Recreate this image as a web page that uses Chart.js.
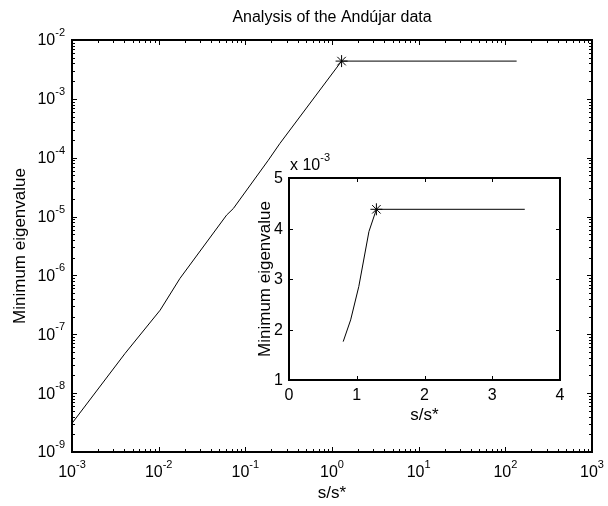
<!DOCTYPE html>
<html>
<head>
<meta charset="utf-8">
<script src="https://cdn.jsdelivr.net/npm/chart.js@4.4.0/dist/chart.umd.min.js"></script>
<style>
  body { margin: 0; background: #fff; }
  #wrap { position: relative; width: 608px; height: 506px; }
  #main { position: absolute; left: 0; top: 0; }
  #inset { position: absolute; left: 240px; top: 150px; }
</style>
</head>
<body>
<div id="wrap">
  <canvas id="main" width="608" height="506"></canvas>
  <canvas id="inset" width="345" height="280"></canvas>
</div>
<script>
// main curve (log-log)
const mainS   = [0.001, 0.0041, 0.0104, 0.0176, 0.0608, 0.0727, 0.184, 0.25, 1.29, 135];
const mainEig = [3.07e-9, 4.74e-8, 2.57e-7, 8.9e-7, 1.06e-5, 1.37e-5, 9.06e-5, 1.74e-4, 4.38e-3, 4.38e-3];

// break point, marked with a star in both plots
const starS = 1.29;
const starEig = 4.38e-3;

// inset curve, linear axes, eigenvalue in units of 1e-3
const insetS   = [0.8, 0.91, 1.03, 1.18, 1.29, 3.48];
const insetEig = [1.76, 2.19, 2.85, 3.94, 4.38, 4.38];

// tick labels
const mainXExp = [-3, -2, -1, 0, 1, 2, 3];
const mainYExp = [-9, -8, -7, -6, -5, -4, -3, -2];
const insetXTicks = [0, 1, 2, 3, 4];
const insetYTicks = [1, 2, 3, 4, 5];

const FONT = '"Liberation Sans", Arial, Helvetica, sans-serif';
const TICK = '16px ' + FONT;
const SUP = '11px ' + FONT;
const LABEL = '17px ' + FONT;

function toPoints(xs, ys) {
  return xs.map((v, i) => ({x: v, y: ys[i]}));
}

// "10" with a raised exponent, like matlab does it
function drawPow(ctx, exp, x, y, align) {
  ctx.font = TICK;
  const wb = ctx.measureText('10').width;
  ctx.font = SUP;
  const ws = ctx.measureText(String(exp)).width;
  const x0 = align === 'center' ? x - (wb + ws) / 2 : x - wb - ws;
  ctx.textAlign = 'left';
  ctx.textBaseline = 'middle';
  ctx.font = TICK;
  ctx.fillText('10', x0, y);
  ctx.font = SUP;
  ctx.fillText(String(exp), x0 + wb, y - 8);
}

function crisp(v) {
  return Math.round(v) + 0.5;
}

const mainFrame = {
  id: 'mainFrame',
  afterDraw(chart) {
    const {ctx, chartArea: a} = chart;
    const x = chart.scales.x, y = chart.scales.y;
    ctx.save();
    ctx.strokeStyle = '#000';
    ctx.fillStyle = '#000';
    ctx.lineWidth = 1;
    ctx.beginPath();
    // inward ticks on all four sides, minor ones shorter
    for (let e = mainXExp[0]; e <= mainXExp[mainXExp.length - 1]; e++) {
      for (let k = 1; k <= 9; k++) {
        if (e === mainXExp[mainXExp.length - 1] && k > 1) break;
        const px = crisp(x.getPixelForValue(k * Math.pow(10, e)));
        const len = k === 1 ? 5 : 3;
        ctx.moveTo(px, a.bottom); ctx.lineTo(px, a.bottom - len);
        ctx.moveTo(px, a.top); ctx.lineTo(px, a.top + len);
      }
    }
    for (let e = mainYExp[0]; e <= mainYExp[mainYExp.length - 1]; e++) {
      for (let k = 1; k <= 9; k++) {
        if (e === mainYExp[mainYExp.length - 1] && k > 1) break;
        const py = crisp(y.getPixelForValue(k * Math.pow(10, e)));
        const len = k === 1 ? 5 : 3;
        ctx.moveTo(a.left, py); ctx.lineTo(a.left + len, py);
        ctx.moveTo(a.right, py); ctx.lineTo(a.right - len, py);
      }
    }
    ctx.stroke();
    ctx.lineWidth = 2;
    ctx.strokeRect(a.left, a.top, a.right - a.left, a.bottom - a.top);

    mainXExp.forEach(e => drawPow(ctx, e, x.getPixelForValue(Math.pow(10, e)), a.bottom + 21, 'center'));
    mainYExp.forEach(e => drawPow(ctx, e, a.left - 7, y.getPixelForValue(Math.pow(10, e)) + 1, 'right'));

    ctx.textAlign = 'center';
    ctx.textBaseline = 'middle';
    ctx.font = TICK;
    ctx.fillText('Analysis of the Andújar data', (a.left + a.right) / 2, 18);
    ctx.font = LABEL;
    ctx.fillText('s/s*', (a.left + a.right) / 2, a.bottom + 41);
    ctx.translate(20, (a.top + a.bottom) / 2);
    ctx.rotate(-Math.PI / 2);
    ctx.fillText('Minimum eigenvalue', 0, 0);
    ctx.restore();
  }
};

const insetFrame = {
  id: 'insetFrame',
  afterDraw(chart) {
    const {ctx, chartArea: a} = chart;
    const x = chart.scales.x, y = chart.scales.y;
    ctx.save();
    ctx.strokeStyle = '#000';
    ctx.fillStyle = '#000';
    ctx.lineWidth = 1;
    ctx.beginPath();
    insetXTicks.forEach(v => {
      const px = crisp(x.getPixelForValue(v));
      ctx.moveTo(px, a.bottom); ctx.lineTo(px, a.bottom - 4);
      ctx.moveTo(px, a.top); ctx.lineTo(px, a.top + 4);
    });
    insetYTicks.forEach(v => {
      const py = crisp(y.getPixelForValue(v));
      ctx.moveTo(a.left, py); ctx.lineTo(a.left + 4, py);
      ctx.moveTo(a.right, py); ctx.lineTo(a.right - 4, py);
    });
    ctx.stroke();
    ctx.lineWidth = 2;
    ctx.strokeRect(a.left, a.top, a.right - a.left, a.bottom - a.top);

    ctx.font = TICK;
    ctx.textBaseline = 'middle';
    ctx.textAlign = 'center';
    insetXTicks.forEach(v => ctx.fillText(String(v), x.getPixelForValue(v), a.bottom + 16));
    ctx.textAlign = 'right';
    insetYTicks.forEach(v => ctx.fillText(String(v), a.left - 6, y.getPixelForValue(v) + 1));

    // exponent note above the y axis
    ctx.textAlign = 'left';
    ctx.fillText('x 10', a.left + 1, a.top - 12);
    const w = ctx.measureText('x 10').width;
    ctx.font = SUP;
    ctx.fillText('-3', a.left + 1 + w, a.top - 20);

    ctx.font = LABEL;
    ctx.textAlign = 'center';
    ctx.fillText('s/s*', (a.left + a.right) / 2, a.bottom + 35);
    ctx.translate(a.left - 24, (a.top + a.bottom) / 2);
    ctx.rotate(-Math.PI / 2);
    ctx.fillText('Minimum eigenvalue', 0, 0);
    ctx.restore();
  }
};

const hiddenAxis = {display: false};

new Chart(document.getElementById('main'), {
  type: 'scatter',
  data: {
    datasets: [
      {
        data: toPoints(mainS, mainEig),
        showLine: true,
        borderColor: '#000',
        borderWidth: 1,
        pointRadius: 0,
        tension: 0
      },
      {
        data: [{x: starS, y: starEig}],
        pointStyle: 'star',
        pointRadius: 6,
        borderColor: '#000',
        borderWidth: 1
      }
    ]
  },
  options: {
    responsive: false,
    animation: false,
    layout: {padding: {left: 72, top: 40, right: 16, bottom: 54}},
    plugins: {legend: {display: false}, tooltip: {enabled: false}},
    scales: {
      x: Object.assign({type: 'logarithmic', min: 1e-3, max: 1e3}, hiddenAxis),
      y: Object.assign({type: 'logarithmic', min: 1e-9, max: 1e-2}, hiddenAxis)
    }
  },
  plugins: [mainFrame]
});

new Chart(document.getElementById('inset'), {
  type: 'scatter',
  data: {
    datasets: [
      {
        data: toPoints(insetS, insetEig),
        showLine: true,
        borderColor: '#000',
        borderWidth: 1,
        pointRadius: 0,
        tension: 0
      },
      {
        data: [{x: starS, y: starEig * 1000}],
        pointStyle: 'star',
        pointRadius: 6,
        borderColor: '#000',
        borderWidth: 1
      }
    ]
  },
  options: {
    responsive: false,
    animation: false,
    layout: {padding: {left: 49, top: 28, right: 25, bottom: 50}},
    plugins: {legend: {display: false}, tooltip: {enabled: false}},
    scales: {
      x: Object.assign({type: 'linear', min: 0, max: 4}, hiddenAxis),
      y: Object.assign({type: 'linear', min: 1, max: 5}, hiddenAxis)
    }
  },
  plugins: [insetFrame]
});
</script>
</body>
</html>
